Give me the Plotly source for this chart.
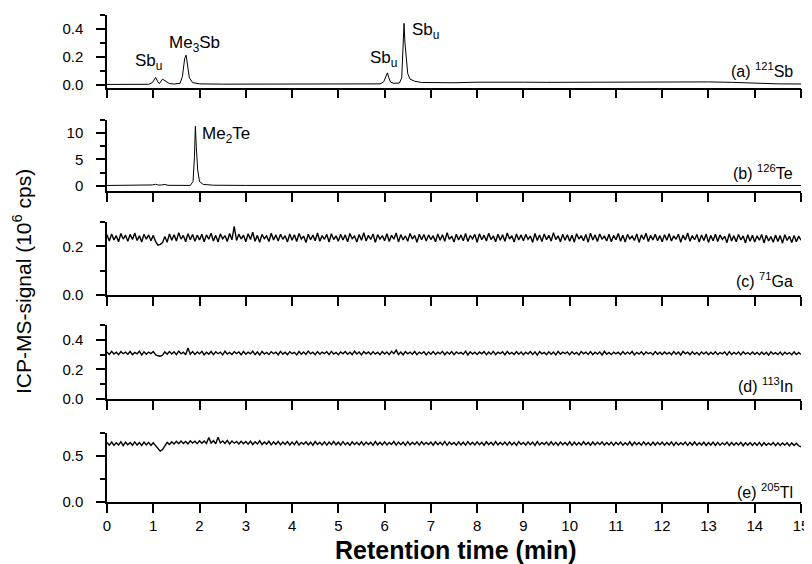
import plotly.graph_objects as go
from plotly.subplots import make_subplots

# ---------------- data ----------------
# (a) 121Sb  (10^6 cps)
sb_time = [0, 0.5, 0.9, 0.98, 1.05, 1.1, 1.13, 1.2, 1.27, 1.35, 1.45, 1.58, 1.63, 1.68, 1.71, 1.74, 1.78,
           1.85, 2.0, 2.5, 3.0, 3.5, 4.0, 4.5, 4.6, 4.7, 5.0, 5.5, 5.9, 5.98, 6.03, 6.06, 6.09, 6.13, 6.2,
           6.32, 6.37, 6.40, 6.42, 6.44, 6.46, 6.5, 6.55, 6.65, 6.8, 7.0, 7.5, 8, 8.5, 9, 9.5, 10, 10.5,
           11, 11.5, 12, 12.5, 13, 13.5, 14, 14.5, 15]
sb_signal = [0.002, 0.002, 0.003, 0.015, 0.052, 0.02, 0.008, 0.04, 0.022, 0.008, 0.005, 0.01, 0.06, 0.19,
             0.212, 0.15, 0.05, 0.015, 0.006, 0.004, 0.004, 0.004, 0.004, 0.005, 0.008, 0.005, 0.005, 0.005,
             0.006, 0.02, 0.07, 0.085, 0.05, 0.018, 0.01, 0.012, 0.05, 0.25, 0.44, 0.3, 0.2, 0.08, 0.04,
             0.025, 0.016, 0.014, 0.014, 0.018, 0.02, 0.018, 0.017, 0.018, 0.016, 0.018, 0.017, 0.019,
             0.022, 0.02, 0.017, 0.01, 0.006, 0.005]

# (b) 126Te
te_time = [0, 0.9, 0.98, 1.05, 1.12, 1.18, 1.25, 1.32, 1.5, 1.8, 1.86, 1.89, 1.91, 1.915, 1.93, 1.96,
           2.0, 2.08, 2.3, 3.0, 15]
te_signal = [0.05, 0.05, 0.15, 0.28, 0.12, 0.15, 0.25, 0.08, 0.05, 0.06, 0.8, 5.5, 11.3, 7.9, 7.5, 3.0,
             0.8, 0.25, 0.1, 0.06, 0.05]

# sampling step of the noisy traces (min)
noise_step = 0.05

# (c) 71Ga, in units of 10^3 cps
ga_milli = [
    248, 222, 251, 226, 244, 219, 253, 230, 246, 221, 249, 228, 255, 224, 243, 218, 250, 229, 247, 223,
    245, 220, 205, 208, 215, 240, 217, 251, 225, 248, 222, 256, 230, 245, 219, 252, 227, 249, 221, 246,
    226, 250, 219, 247, 229, 254, 222, 245, 218, 251, 231, 244, 220, 253, 227, 282, 224, 250, 230, 246,
    219, 252, 228, 258, 221, 245, 217, 249, 231, 243, 220, 254, 226, 247, 222, 250, 229, 244, 218, 251,
    225, 248, 220, 253, 230, 242, 216, 250, 227, 246, 223, 255, 221, 244, 229, 249, 218, 252, 228, 243,
    221, 250, 226, 247, 219, 253, 231, 242, 218, 249, 225, 256, 222, 245, 228, 251, 217, 248, 230, 244,
    223, 252, 220, 246, 229, 255, 218, 248, 226, 243, 221, 253, 230, 245, 217, 250, 227, 249, 222, 247,
    228, 244, 219, 251, 225, 248, 221, 256, 229, 242, 218, 250, 226, 247, 223, 253, 220, 245, 231, 249,
    217, 252, 227, 246, 222, 254, 228, 243, 219, 250, 225, 248, 221, 255, 230, 244, 218, 251, 226, 247,
    223, 249, 229, 242, 216, 253, 224, 247, 220, 251, 227, 245, 222, 256, 228, 243, 219, 250, 225, 248,
    221, 246, 218, 252, 230, 244, 223, 249, 217, 254, 226, 247, 220, 251, 229, 243, 222, 250, 219, 245,
    227, 253, 221, 246, 218, 249, 230, 242, 224, 251, 216, 247, 228, 254, 220, 245, 226, 250, 223, 244,
    219, 248, 225, 252, 222, 243, 229, 250, 217, 246, 226, 255, 221, 244, 227, 249, 218, 247, 224, 251,
    216, 245, 223, 250, 220, 247, 228, 241, 215, 252, 222, 244, 219, 249, 226, 243, 214, 248, 221, 246,
    218, 243, 225, 249, 214, 246, 222, 240, 217, 247, 220, 244, 213, 248, 224, 241, 216, 245, 219, 242, 225]

# (d) 113In, in units of 10^3 cps
in_milli = [
    318, 301, 322, 304, 316, 299, 320, 306, 317, 302, 321, 300, 315, 305, 323, 298, 319, 303, 317, 307,
    321, 300, 292, 289, 296, 318, 302, 321, 304, 319, 300, 324, 306, 317, 299, 345, 303, 320, 301, 318,
    305, 322, 299, 316, 303, 321, 300, 319, 306, 317, 298, 323, 304, 315, 301, 320, 307, 318, 299, 322,
    302, 316, 305, 323, 300, 318, 297, 321, 304, 315, 301, 320, 306, 317, 299, 322, 303, 316, 300, 319,
    306, 315, 298, 321, 303, 318, 301, 324, 305, 316, 299, 320, 302, 317, 307, 319, 300, 322, 304, 315,
    299, 318, 306, 321, 302, 316, 300, 323, 304, 317, 298, 320, 305, 318, 301, 319, 303, 316, 299, 321,
    304, 317, 300, 322, 306, 330, 301, 318, 299, 320, 305, 316, 302, 321, 300, 317, 306, 319, 298, 318,
    303, 320, 301, 316, 305, 322, 299, 317, 304, 321, 300, 318, 306, 315, 302, 323, 298, 319, 304, 316,
    301, 318, 305, 320, 299, 317, 303, 322, 300, 316, 306, 319, 298, 321, 304, 315, 301, 320, 303, 317,
    299, 316, 304, 321, 301, 318, 297, 320, 305, 315, 300, 319, 303, 317, 298, 322, 302, 316, 306, 318,
    300, 319, 303, 315, 298, 321, 305, 317, 301, 320, 299, 316, 304, 318, 297, 322, 302, 315, 300, 317,
    305, 316, 299, 320, 302, 317, 304, 321, 298, 315, 303, 319, 300, 318, 306, 314, 299, 320, 302, 316,
    301, 318, 304, 315, 299, 320, 303, 317, 297, 321, 305, 316, 300, 319, 302, 315, 298, 318, 304, 317,
    299, 316, 302, 319, 300, 314, 305, 318, 297, 320, 301, 315, 303, 317, 298, 319, 304, 314, 300, 318,
    302, 315, 299, 318, 301, 316, 297, 319, 304, 313, 300, 317, 298, 316, 303, 314, 299, 318, 301, 315, 300]

# (e) 205Tl, in units of 10^3 cps
tl_milli = [
    648, 618, 652, 615, 645, 620, 655, 612, 650, 622, 646, 617, 653, 619, 647, 614, 651, 621, 649, 616,
    644, 612, 575, 553, 570, 610, 648, 625, 655, 630, 660, 634, 663, 636, 658, 632, 665, 640, 661, 633,
    666, 638, 662, 635, 700, 640, 667, 633, 705, 642, 664, 636, 669, 631, 662, 639, 658, 630, 660, 634,
    657, 628, 662, 625, 655, 630, 666, 624, 652, 629, 660, 621, 654, 627, 658, 622, 651, 626, 656, 620,
    652, 623, 659, 619, 648, 628, 655, 621, 650, 617, 657, 625, 649, 620, 654, 618, 652, 624, 658, 622,
    650, 619, 656, 623, 647, 617, 653, 626, 649, 620, 655, 618, 651, 624, 648, 616, 657, 622, 650, 621,
    654, 620, 648, 625, 657, 618, 652, 623, 650, 616, 655, 621, 649, 626, 653, 619, 656, 622, 648, 624,
    651, 617, 655, 622, 649, 620, 658, 616, 652, 625, 647, 619, 654, 621, 650, 618, 656, 623, 648, 620,
    653, 622, 648, 617, 655, 624, 650, 619, 657, 621, 646, 623, 652, 618, 654, 620, 649, 616, 655, 625,
    648, 619, 653, 622, 650, 615, 656, 620, 647, 624, 652, 618, 655, 621, 649, 617, 651, 623, 646, 619,
    654, 616, 650, 621, 647, 619, 655, 623, 648, 617, 652, 620, 649, 624, 653, 618, 646, 621, 651, 616,
    648, 622, 652, 617, 645, 620, 654, 615, 650, 623, 647, 618, 653, 621, 646, 616, 651, 619, 648, 622,
    650, 617, 646, 621, 653, 615, 649, 620, 644, 623, 651, 616, 648, 619, 652, 618, 645, 621, 650, 614,
    646, 619, 651, 614, 648, 618, 643, 621, 650, 613, 647, 617, 645, 620, 649, 612, 644, 618, 647, 615,
    643, 616, 648, 611, 645, 617, 640, 619, 646, 612, 643, 615, 641, 618, 644, 610, 642, 614, 639, 611, 600]

panel_labels = ["(a) <sup>121</sup>Sb", "(b) <sup>126</sup>Te", "(c) <sup>71</sup>Ga",
                "(d) <sup>113</sup>In", "(e) <sup>205</sup>Tl"]
x_ticks = list(range(0, 16))

# ---------------- figure ----------------
# the page body adds an 8px offset; page pixel coords below are converted to figure coords
OFF = 8
W, H = 812 - OFF, 564 - OFF
PL, PR = 107, 801          # plot area left/right in page px
FONT = "Liberation Sans, Arial, sans-serif"

def fx(px):
    return (px - PL) / (PR - PL)

def fy(py):
    return 1 - (py - OFF) / H

fig = make_subplots(rows=5, cols=1, shared_xaxes=False)

def tgrid(vals):
    return [round(i * noise_step, 4) for i in range(len(vals))]

series = [
    (sb_time, sb_signal, 1.0),
    (te_time, te_signal, 1.0),
    (tgrid(ga_milli), [v / 1000 for v in ga_milli], 1.4),
    (tgrid(in_milli), [v / 1000 for v in in_milli], 1.4),
    (tgrid(tl_milli), [v / 1000 for v in tl_milli], 1.4),
]
for i, (xs, ys, lw) in enumerate(series):
    fig.add_trace(go.Scatter(x=xs, y=ys, mode="lines", line=dict(color="black", width=lw),
                             showlegend=False, hoverinfo="skip"), row=i + 1, col=1)

# page-pixel rows of each panel (top, bottom)
panels_px = [(15, 87.5), (120, 191), (222, 295), (325, 399), (433, 502)]
yranges = [[-0.02, 0.5], [-1, 12.5], [0, 0.3], [0, 0.5], [0, 0.75]]
ydticks = [0.2, 5, 0.2, 0.2, 0.5]
yminor = [0.1, 2.5, 0.1, 0.1, 0.25]
yfmt = [".1f", "", ".1f", ".1f", ".1f"]
label_y = [0.109, 2.7, 0.061, 0.095, 0.122]

tickfont = dict(family=FONT, size=15, color="black")
for i in range(5):
    top, bot = panels_px[i]
    n = "" if i == 0 else str(i + 1)
    fig.layout["yaxis" + n].update(
        domain=[fy(bot), fy(top)], range=yranges[i], dtick=ydticks[i], tick0=0,
        tickformat=yfmt[i], showline=True, linecolor="black", linewidth=1.5,
        ticks="outside", ticklen=9, tickwidth=1.5, tickcolor="black",
        minor=dict(dtick=yminor[i], tick0=0, ticks="outside", ticklen=5, tickwidth=1.5,
                   tickcolor="black", showgrid=False),
        showgrid=False, zeroline=False, tickfont=tickfont, ticklabelstandoff=10,
        automargin=False)
    fig.layout["xaxis" + n].update(
        domain=[0, 1], range=[0, 15], tickvals=x_ticks, ticktext=[str(v) for v in x_ticks],
        showline=True, linecolor="black", linewidth=1.5,
        ticks="outside", ticklen=9, tickwidth=1.5, tickcolor="black",
        showgrid=False, zeroline=False, showticklabels=(i == 4), tickfont=tickfont,
        anchor="y" + n, automargin=False)
    fig.add_annotation(x=14.88, y=label_y[i], xref="x" + n, yref="y" + n, text=panel_labels[i],
                       showarrow=False, xanchor="right", yanchor="middle",
                       font=dict(family=FONT, size=16, color="black"))

peak_font = dict(family=FONT, size=17, color="black")
peaks = [
    ("Sb<sub>u</sub>", 0.56, 0.165, "x", "y"),
    ("Me<sub>3</sub>Sb", 1.30, 0.29, "x", "y"),
    ("Sb<sub>u</sub>", 5.64, 0.185, "x", "y"),
    ("Sb<sub>u</sub>", 6.55, 0.385, "x", "y"),
    ("Me<sub>2</sub>Te", 2.01, 9.7, "x2", "y2"),
]
for txt, px, py, xr, yr in peaks:
    fig.add_annotation(x=px, y=py, xref=xr, yref=yr, text=txt, showarrow=False,
                       xanchor="left", yanchor="middle", font=peak_font)

fig.add_annotation(x=fx(22), y=fy(282), xref="paper", yref="paper",
                   text="ICP-MS-signal (10<sup>6</sup> cps)", textangle=-90, showarrow=False,
                   xanchor="center", yanchor="middle",
                   font=dict(family=FONT, size=21, color="black"))
fig.add_annotation(x=fx(456), y=fy(550), xref="paper", yref="paper",
                   text="<b>Retention time (min)</b>", showarrow=False,
                   xanchor="center", yanchor="middle",
                   font=dict(family=FONT, size=25, color="black"))

fig.update_layout(width=W, height=H, margin=dict(l=PL - OFF, r=W - (PR - OFF), t=0, b=0),
                  plot_bgcolor="white", paper_bgcolor="white",
                  font=dict(family=FONT, color="black"))

fig.write_html("out.html")
